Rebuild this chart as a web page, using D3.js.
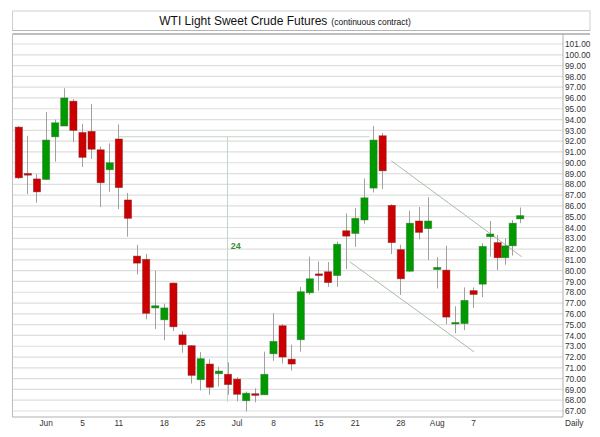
<!DOCTYPE html>
<html>
<head>
<meta charset="utf-8">
<script src="https://cdn.jsdelivr.net/npm/d3@7"></script>
<style>
  html, body { margin: 0; padding: 0; background: #fff; }
  svg { display: block; font-family: "Liberation Sans", Arial, sans-serif; }
</style>
</head>
<body>
<div id="chart"></div>
<script>
// daily bars, one per session (index 0..56)
const opens  = [93.3, 89.0, 88.5, 88.45, 92.4, 93.4, 95.7, 92.8, 92.9, 91.2, 89.35, 92.2, 86.55, 81.35, 81.05, 76.55, 75.45, 78.85, 74.05, 73.05,
                69.9, 71.35, 70.45, 70.4, 69.95, 67.95, 68.6, 68.5, 72.3, 74.9, 71.8, 73.6, 77.95, 79.7, 79.9, 79.55, 83.7, 83.45, 84.7, 87.65,
                92.5, 86.05, 81.95, 79.95, 84.6, 83.9, 80.1, 80.05, 75.1, 75.1, 78.15, 78.75, 83.15, 82.6, 81.2, 82.3, 84.8];
const highs  = [93.4, 92.5, 88.95, 94.7, 94.0, 96.9, 95.9, 93.6, 95.45, 91.5, 91.8, 93.55, 87.2, 82.4, 81.55, 80.0, 76.95, 78.9, 74.4, 73.1,
                72.45, 71.8, 71.1, 71.5, 70.15, 68.8, 69.1, 72.5, 76.05, 75.05, 73.15, 78.5, 81.3, 80.85, 80.8, 82.7, 85.3, 85.8, 88.55, 93.4,
                92.75, 86.15, 82.4, 85.55, 85.9, 86.8, 81.25, 82.3, 76.7, 78.45, 78.45, 82.55, 84.6, 83.3, 83.0, 84.7, 85.85];
const lows   = [88.5, 87.1, 86.3, 88.4, 90.1, 93.4, 91.9, 89.6, 90.35, 85.9, 87.3, 85.7, 83.15, 79.65, 75.5, 74.6, 73.55, 74.4, 72.4, 69.55,
                68.9, 68.5, 69.25, 68.5, 67.9, 66.95, 67.8, 68.5, 71.65, 71.4, 70.75, 72.5, 77.75, 78.15, 78.5, 78.5, 80.15, 82.2, 84.35, 87.25,
                87.55, 81.55, 77.75, 79.85, 82.9, 81.0, 78.35, 75.05, 74.2, 74.5, 76.55, 77.55, 81.3, 80.05, 80.55, 81.4, 84.4];
const closes = [88.6, 88.85, 87.3, 92.1, 93.7, 96.0, 93.0, 90.5, 91.25, 88.15, 90.0, 87.7, 84.85, 80.7, 76.05, 76.75, 76.55, 74.8, 73.15, 70.3,
                71.85, 69.2, 70.7, 69.45, 68.55, 68.65, 68.45, 70.4, 73.45, 72.0, 71.35, 78.05, 79.25, 79.55, 78.9, 82.45, 83.2, 84.85, 86.75, 92.1,
                89.25, 82.6, 79.25, 84.4, 83.55, 84.6, 80.3, 75.7, 75.2, 77.25, 77.8, 82.25, 83.4, 81.2, 82.3, 84.4, 85.1];

// x-axis labels: [bar index, text]
const dateTicks = [[3, "Jun"], [7, "5"], [11, "11"], [16, "18"], [20, "25"], [24, "Jul"], [28, "8"],
                   [33, "15"], [37, "21"], [42, "28"], [46, "Aug"], [50, "7"]];
const priceTicks = d3.range(67, 102, 1);

// drawing tools on the chart: [[index, price], [index, price]]
const cycleLines = [[[11, 92.41], [38.6, 92.41]], [[23, 92.41], [23, 67.85]]];
const cycleLabel = { i: 23.35, p: 82.05, text: "24" };
const channelLines = [[[41, 90.18], [56.27, 81.29]], [[36.45, 80.82], [50.1, 72.48]]];

const bars = opens.map((o, i) => ({ i, o, h: highs[i], l: lows[i], c: closes[i] }));

const width = 600, height = 437;
const plot = { left: 12.5, right: 563, top: 34, bottom: 417 };

const svg = d3.select("#chart").append("svg")
  .attr("width", width)
  .attr("height", height);

// title box
svg.append("rect")
  .attr("x", 12.5).attr("y", 11)
  .attr("width", 577.5).attr("height", 19.5)
  .attr("fill", "#fff")
  .attr("stroke", "#cfcfcf");
svg.append("line")
  .attr("x1", 12.5).attr("x2", 590).attr("y1", 30.5).attr("y2", 30.5)
  .attr("stroke", "#b5b5b5");

const title = svg.append("text")
  .attr("x", 285)
  .attr("y", 25)
  .attr("text-anchor", "middle")
  .attr("fill", "#111");
title.append("tspan").attr("font-size", 12).text("WTI Light Sweet Crude Futures");
title.append("tspan").attr("font-size", 8.5).attr("dx", 4).text("(continuous contract)");

// scales: the last sessions are packed tighter in the source chart
const x = d3.scaleLinear()
  .domain([0, 51, 56])
  .range([18.3, 482.2, 519.7]);

const y = d3.scaleLinear()
  .domain([67, 101])
  .range([411, 44]);

// grid
svg.append("g")
  .selectAll("line")
  .data(priceTicks)
  .enter()
  .append("line")
  .attr("x1", plot.left)
  .attr("x2", plot.right)
  .attr("y1", d => y(d))
  .attr("y2", d => y(d))
  .attr("stroke", "#dedede")
  .attr("stroke-width", 1.2);

// frame
svg.append("line")
  .attr("x1", plot.left).attr("x2", 590)
  .attr("y1", plot.top).attr("y2", plot.top)
  .attr("stroke", "#a8a8a8").attr("stroke-width", 1.5);
svg.append("line")
  .attr("x1", plot.left).attr("x2", plot.left)
  .attr("y1", plot.top).attr("y2", plot.bottom)
  .attr("stroke", "#bdbdbd");
svg.append("line")
  .attr("x1", plot.left).attr("x2", plot.right)
  .attr("y1", plot.bottom).attr("y2", plot.bottom)
  .attr("stroke", "#b0b0b0");

// right price axis
const yAxis = svg.append("g")
  .attr("transform", `translate(${plot.right},0)`)
  .call(d3.axisRight(y).tickValues(priceTicks).tickFormat(d3.format(".2f")).tickSize(0).tickPadding(2));
yAxis.select(".domain")
  .attr("d", `M0,${plot.top}V${plot.bottom}`)
  .attr("stroke", "#b0b0b0");
yAxis.selectAll("text")
  .attr("font-family", "'Liberation Sans', Arial, sans-serif")
  .attr("font-size", 8.3)
  .attr("fill", "#333");

// bottom date axis
const xAxis = svg.append("g")
  .attr("transform", `translate(0,${plot.bottom})`)
  .call(d3.axisBottom(x)
    .tickValues(dateTicks.map(d => d[0]))
    .tickFormat(i => dateTicks.find(d => d[0] === i)[1])
    .tickSize(0)
    .tickPadding(3));
xAxis.select(".domain").remove();
xAxis.selectAll("text")
  .attr("font-family", "'Liberation Sans', Arial, sans-serif")
  .attr("font-size", 8.3)
  .attr("fill", "#333");

svg.append("text")
  .attr("x", 565)
  .attr("y", 426)
  .attr("font-size", 8.3)
  .attr("fill", "#333")
  .text("Daily");

// annotation lines
const seg = d3.line().x(d => x(d[0])).y(d => y(d[1]));

svg.append("g")
  .selectAll("path")
  .data(cycleLines)
  .enter()
  .append("path")
  .attr("d", seg)
  .attr("fill", "none")
  .attr("stroke", "#c3d6c3")
  .attr("stroke-width", 1);

svg.append("text")
  .attr("x", x(cycleLabel.i))
  .attr("y", y(cycleLabel.p))
  .attr("font-size", 9)
  .attr("font-weight", "bold")
  .attr("fill", "#3b8a3b")
  .text(cycleLabel.text);

svg.append("g")
  .selectAll("path")
  .data(channelLines)
  .enter()
  .append("path")
  .attr("d", seg)
  .attr("fill", "none")
  .attr("stroke", "#a7bca7")
  .attr("stroke-width", 1);

// candles
const bodyW = 7.2;
const candles = svg.append("g")
  .selectAll("g")
  .data(bars)
  .enter()
  .append("g");

candles.append("line")
  .attr("x1", d => Math.round(x(d.i)) + 0.5)
  .attr("x2", d => Math.round(x(d.i)) + 0.5)
  .attr("y1", d => y(d.h))
  .attr("y2", d => y(d.l))
  .attr("stroke", "#a0a0a0")
  .attr("stroke-width", 1);

candles.append("rect")
  .attr("x", d => x(d.i) - bodyW / 2 + 0.5)
  .attr("y", d => y(Math.max(d.o, d.c)))
  .attr("width", bodyW)
  .attr("height", d => Math.max(1.5, Math.abs(y(d.o) - y(d.c))))
  .attr("fill", d => d.c >= d.o ? "#009a00" : "#cc0000")
  .attr("stroke", d => d.c >= d.o ? "#2f6f2f" : "#7a2020")
  .attr("stroke-opacity", 0.55)
  .attr("stroke-width", 0.8);
</script>
</body>
</html>
